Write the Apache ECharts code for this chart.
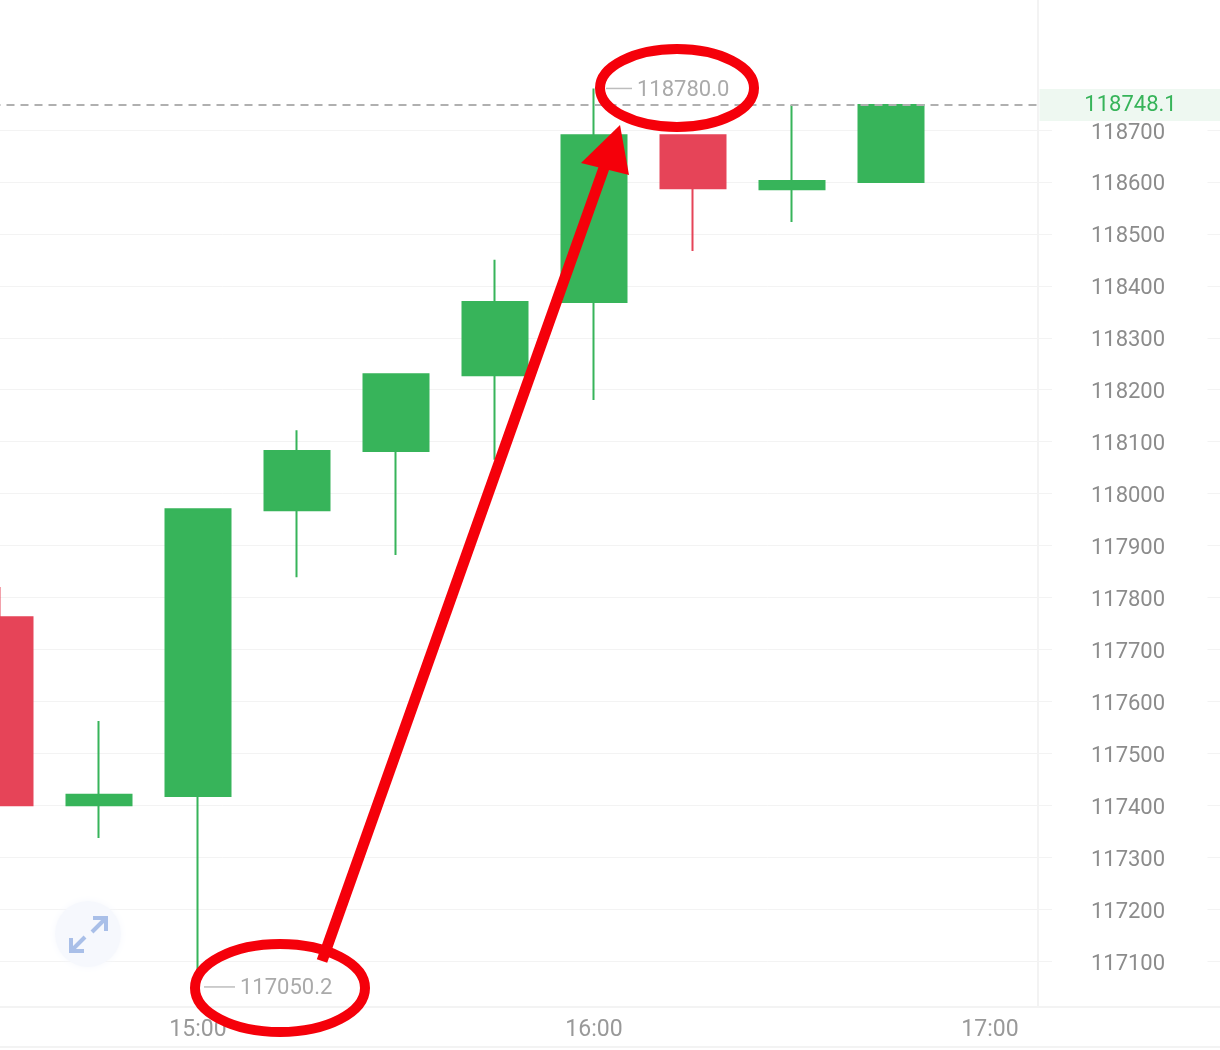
<!DOCTYPE html>
<html>
<head>
<meta charset="utf-8">
<style>
  html, body { margin: 0; padding: 0; background: #fff; overflow: hidden; }
  /* the 14:30 candle is cut by the left edge, so the chart starts off screen */
  #chart { position: absolute; left: -50px; top: 0; width: 1270px; height: 1050px; }
</style>
<script src="https://cdn.jsdelivr.net/npm/echarts@6/dist/echarts.min.js"></script>
</head>
<body>
<div id="chart"></div>
<script>
var times = ['14:30', '14:45', '15:00', '15:15', '15:30', '15:45', '16:00', '16:15', '16:30', '16:45', '17:00']
var opens = [117762, 117400, 117418, 117968, 118082, 118228, 118369, 118690, 118586, 118600]
var closes = [117400, 117420, 117970, 118082, 118230, 118369, 118690, 118588, 118602, 118748.1]
var lows = [117400, 117337, 117050.2, 117839, 117882, 118065, 118180, 118467, 118523, 118600]
var highs = [117820, 117562, 117970, 118122, 118230, 118450, 118780, 118690, 118748, 118748.1]
var yTicks = [117100, 117200, 117300, 117400, 117500, 117600, 117700, 117800, 117900, 118000, 118100, 118200, 118300, 118400, 118500, 118600, 118700]
var xLabels = ['15:00', '16:00', '17:00']
var lastPrice = 118748.1
var highPrice = 118780.0
var lowPrice = 117050.2

var GREEN = '#37b45a'
var RED = '#e64458'
var LINE = '#f3f3f3'
var ANNOT = '#f5000a'
var FONT = 'Roboto, sans-serif'

var candles = times.map(function (t, i) {
  if (opens[i] === undefined) return '-'
  return [opens[i], closes[i], lows[i], highs[i]]
})

function extremeMark(time, value, offset, width) {
  return {
    coord: [time, value],
    symbol: 'rect',
    symbolSize: [width, 1.5],
    symbolOffset: [offset, 0],
    itemStyle: { color: '#bdbdbd' },
    label: {
      show: true,
      position: 'right',
      distance: 5,
      offset: [0, 2],
      formatter: value.toFixed(1),
      color: '#aaaaaa',
      fontSize: 22,
      fontFamily: FONT
    }
  }
}

var myChart = echarts.init(document.getElementById('chart'))
var option = {
  animation: false,
  backgroundColor: '#fff',
  grid: { left: 0.5, width: 1089, top: 0, height: 1007 },
  xAxis: {
    type: 'category',
    data: times,
    boundaryGap: true,
    axisLine: { lineStyle: { color: LINE, width: 2 } },
    axisTick: { show: false },
    splitLine: { show: false },
    axisLabel: {
      color: '#999999',
      fontSize: 23,
      fontFamily: FONT,
      margin: 12,
      interval: 0,
      formatter: function (v) { return xLabels.indexOf(v) >= 0 ? v : '' }
    }
  },
  yAxis: [{
    type: 'value',
    position: 'right',
    offset: -1.5,
    min: 117011.6,
    max: 118950.3,
    axisLine: { show: true, lineStyle: { color: LINE, width: 2 } },
    axisTick: { show: true, length: 14, customValues: yTicks, lineStyle: { color: LINE } },
    splitLine: { show: true, lineStyle: { color: LINE } },
    axisLabel: {
      align: 'center',
      margin: 90,
      formatter: function (v) { return '{a|' + v + '}' },
      rich: {
        a: {
          color: '#8c8c8c',
          fontSize: 22,
          fontFamily: FONT,
          padding: [6, 0, 0, 0]
        }
      },
      customValues: yTicks
    }
  }, {
    type: 'value',
    position: 'right',
    offset: 168,
    min: 117011.6,
    max: 118950.3,
    axisLine: { show: false },
    axisTick: { show: true, length: 14, customValues: yTicks, lineStyle: { color: LINE } },
    splitLine: { show: false },
    axisLabel: { show: false, customValues: yTicks }
  }],
  series: [{
    type: 'candlestick',
    data: candles,
    barWidth: 65,
    itemStyle: {
      color: GREEN,
      color0: RED,
      borderColor: GREEN,
      borderColor0: RED,
      borderWidth: 2
    },
    markLine: {
      silent: true,
      symbol: 'none',
      lineStyle: { type: [8, 6], color: '#b0b0b0', width: 2 },
      label: {
        show: true,
        position: 'end',
        distance: 0,
        offset: [91, 0],
        formatter: String(lastPrice),
        color: GREEN,
        fontSize: 22,
        fontFamily: FONT,
        align: 'center',
        width: 182,
        height: 32,
        lineHeight: 36,
        backgroundColor: '#eef8f1'
      },
      data: [{ yAxis: lastPrice }]
    },
    markPoint: {
      silent: true,
      data: [
        extremeMark('16:00', highPrice, 25, 26),
        extremeMark('15:00', lowPrice, 21.5, 31)
      ]
    }
  }],
  graphic: [{
    type: 'group',
    x: 50,
    children: [
      // bottom rules outside the grid
      { type: 'line', z: 1, shape: { x1: 1038, y1: 1007, x2: 1220, y2: 1007 }, style: { stroke: LINE, lineWidth: 2 } },
      { type: 'line', z: 1, shape: { x1: 0, y1: 1047, x2: 1220, y2: 1047 }, style: { stroke: LINE, lineWidth: 2 } },
      // expand button
      { type: 'circle', z: 5, shape: { cx: 88, cy: 934, r: 33 }, style: { fill: '#f6f8fd', shadowBlur: 8, shadowColor: '#f6f8fd' } },
      { type: 'polyline', z: 6, shape: { points: [[93, 918], [106, 918], [106, 931]] }, style: { fill: 'none', stroke: '#a9bfe8', lineWidth: 4 } },
      { type: 'line', z: 6, shape: { x1: 105, y1: 919, x2: 92, y2: 932 }, style: { stroke: '#a9bfe8', lineWidth: 4 } },
      { type: 'polyline', z: 6, shape: { points: [[71, 938], [71, 951], [84, 951]] }, style: { fill: 'none', stroke: '#a9bfe8', lineWidth: 4 } },
      { type: 'line', z: 6, shape: { x1: 72, y1: 950, x2: 85, y2: 937 }, style: { stroke: '#a9bfe8', lineWidth: 4 } },
      // hand drawn annotations
      { type: 'ellipse', z: 20, shape: { cx: 677, cy: 88, rx: 77, ry: 39 }, style: { fill: 'none', stroke: ANNOT, lineWidth: 10 } },
      { type: 'ellipse', z: 20, shape: { cx: 280, cy: 988, rx: 85, ry: 44 }, style: { fill: 'none', stroke: ANNOT, lineWidth: 10 } },
      { type: 'line', z: 20, shape: { x1: 322, y1: 961, x2: 605, y2: 165 }, style: { stroke: ANNOT, lineWidth: 11 } },
      { type: 'polygon', z: 20, shape: { points: [[620, 125], [581, 163], [629, 175]] }, style: { fill: ANNOT } }
    ]
  }]
}
myChart.setOption(option)
</script>
</body>
</html>
